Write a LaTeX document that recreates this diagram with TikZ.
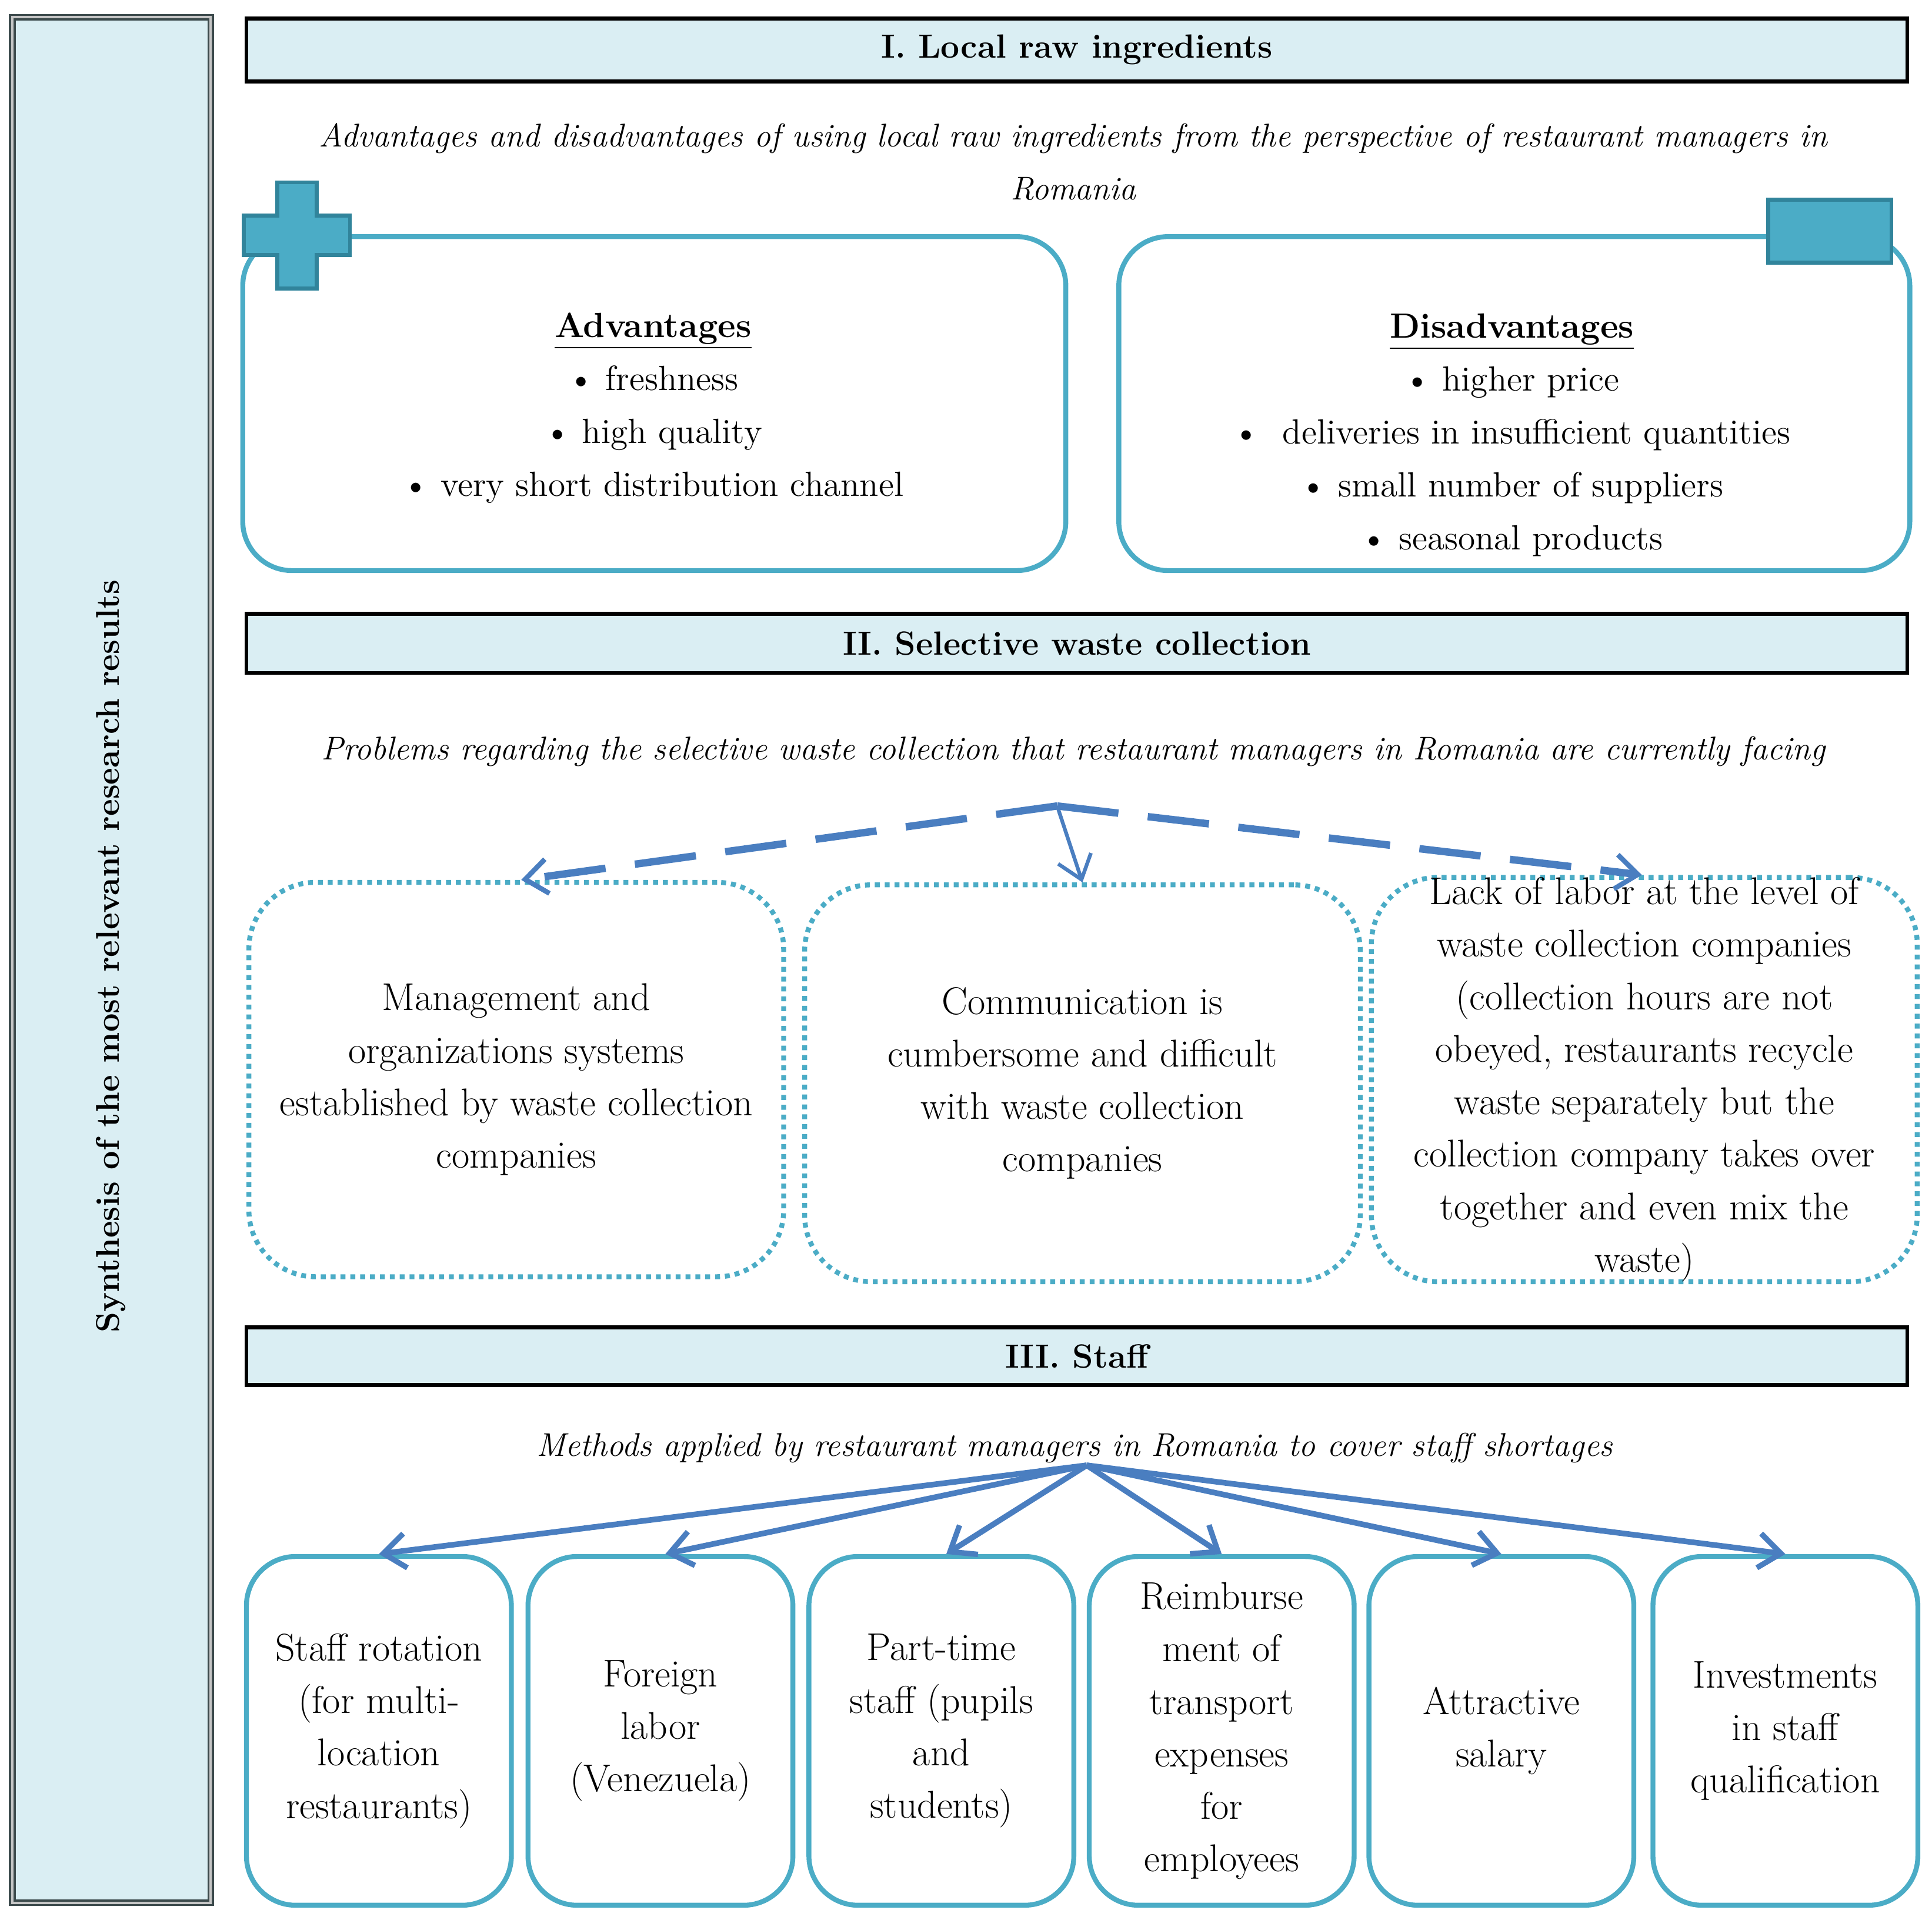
\documentclass[tikz,border=0pt]{standalone}
\usetikzlibrary{arrows.meta}
\definecolor{teal5}{HTML}{4BACC6}
\definecolor{tealdark}{HTML}{31849B}
\definecolor{hdrfill}{HTML}{DAEEF3}
\definecolor{arrblue}{HTML}{4A7EC0}
\definecolor{sidegray}{HTML}{3C4A4C}
\begin{document}
\begin{tikzpicture}[x=0.5pt,y=-0.5pt,
  hdr/.style={draw=black,line width=1.6pt,fill=hdrfill,minimum width=674pt,inner sep=0pt,
    font=\fontsize{13.6}{16}\selectfont\bfseries},
  body/.style={font=\fontsize{14.2}{21.5}\selectfont,align=center,inner sep=0pt},
  sub/.style={font=\fontsize{13.35}{21.5}\selectfont\itshape,align=center,inner sep=0pt},
  topbox/.style={draw=teal5,line width=2pt,rounded corners=20pt,minimum height=135.5pt,inner sep=0pt},
  dotbox/.style={draw=teal5,line width=2pt,dash pattern=on 2pt off 2pt,rounded corners=27pt,
    minimum height=160pt,inner sep=0pt,align=center,font=\fontsize{15.7}{21.3}\selectfont},
  staffbox/.style={draw=teal5,line width=2pt,rounded corners=20pt,minimum width=107.5pt,
    minimum height=141.5pt,inner sep=0pt,align=center,font=\fontsize{15.7}{21.3}\selectfont},
  icon/.style={fill=teal5,draw=tealdark,line width=1.6pt},
  dasharrow/.style={draw=arrblue,line width=3pt,dash pattern=on 25pt off 12pt,
    -{Straight Barb[length=9pt,width=14pt,line width=2pt]}},
  thinarrow/.style={draw=arrblue,line width=1.5pt,
    -{Straight Barb[length=9pt,width=14pt,line width=1.5pt]}},
  staffarrow/.style={draw=arrblue,line width=2.3pt,
    -{Straight Barb[length=9pt,width=14pt,line width=2.2pt]}}
]
\useasboundingbox (0,0) rectangle (1568,1566);

% sidebar
\node[draw=sidegray,line width=0.9pt,double=gray!45,double distance=0.9pt,fill=hdrfill,
  minimum width=80.5pt,minimum height=765pt,inner sep=0pt] (side) at (90.5,779) {};
\node[rotate=90,font=\fontsize{13.35}{15}\selectfont\bfseries,inner sep=0pt] (sidetxt) at (90,776)
  {Synthesis of the most relevant research results};

% section I
\node[hdr,minimum height=25.5pt] (h1) at (874,40.5) {I. Local raw ingredients};
\node[sub] (sub1) at (871,131.5) {Advantages and disadvantages of using local raw ingredients from the perspective of restaurant managers in\\Romania};

\node[topbox,minimum width=334pt] (adv) at (531,327.5) {};
\node[topbox,minimum width=321pt] (dis) at (1229,327.5) {};
\node[body] (advtxt) at (530,331) {\underline{\textbf{Advantages}}\\ \textbullet\ freshness\\ \textbullet\ high quality\\ \textbullet\ very short distribution channel};
\node[body] (distxt) at (1227,353) {\underline{\textbf{Disadvantages}}\\ \textbullet\ higher price\\ \textbullet\ \ deliveries in insufficient quantities\\ \textbullet\ small number of suppliers\\ \textbullet\ seasonal products};

\draw[icon] (225,148) -- (257,148) -- (257,175) -- (284,175) -- (284,207) -- (257,207) -- (257,234)
  -- (225,234) -- (225,207) -- (198,207) -- (198,175) -- (225,175) -- cycle;
\draw[icon] (1435,162) rectangle (1535,213);

% section II
\node[hdr,minimum height=24pt] (h2) at (874,522) {II. Selective waste collection};
\node[sub] (sub2) at (871,610) {Problems regarding the selective waste collection that restaurant managers in Romania are currently facing};

\node[dotbox,minimum width=217pt] (b1) at (419,876) {Management and\\organizations systems\\established by waste collection\\companies};
\node[dotbox,minimum width=225.5pt,minimum height=161pt] (b2) at (878.5,879) {Communication is\\cumbersome and difficult\\with waste collection\\companies};
\node[dotbox,minimum width=221.5pt] (b3) at (1334.5,876) {Lack of labor at the level of\\waste collection companies\\(collection hours are not\\obeyed, restaurants recycle\\waste separately but the\\collection company takes over\\together and even mix the\\waste)};

\coordinate (apex2) at (858,654);
\draw[dasharrow] (apex2) -- ([xshift=2pt]b1.north);
\draw[dasharrow] (apex2) -- ([xshift=-1pt]b3.north);
\draw[thinarrow] (apex2) -- (b2.north);

% section III
\node[hdr,minimum height=23.5pt] (h3) at (874,1100.5) {III. Staff};
\node[sub] (sub3) at (872,1175) {Methods applied by restaurant managers in Romania to cover staff shortages};

\node[staffbox] (s1) at (307.5,1404.5) {Staff rotation\\(for multi-\\location\\restaurants)};
\node[staffbox] (s2) at (536,1404.5) {Foreign\\labor\\(Venezuela)};
\node[staffbox] (s3) at (764,1404.5) {Part-time\\staff (pupils\\and\\students)};
\node[staffbox] (s4) at (991.5,1404.5) {Reimburse\\ment of\\transport\\expenses\\for\\employees};
\node[staffbox] (s5) at (1218.5,1404.5) {Attractive\\salary};
\node[staffbox] (s6) at (1449,1404.5) {Investments\\in staff\\qualification};

\coordinate (apex3) at (882,1189);
\draw[staffarrow] (apex3) -- (s1.north);
\draw[staffarrow] (apex3) -- ([xshift=2pt]s2.north);
\draw[staffarrow] (apex3) -- ([xshift=2pt]s3.north);
\draw[staffarrow] (apex3) -- (s4.north);
\draw[staffarrow] (apex3) -- (s5.north);
\draw[staffarrow] (apex3) -- (s6.north);
\end{tikzpicture}
\end{document}
